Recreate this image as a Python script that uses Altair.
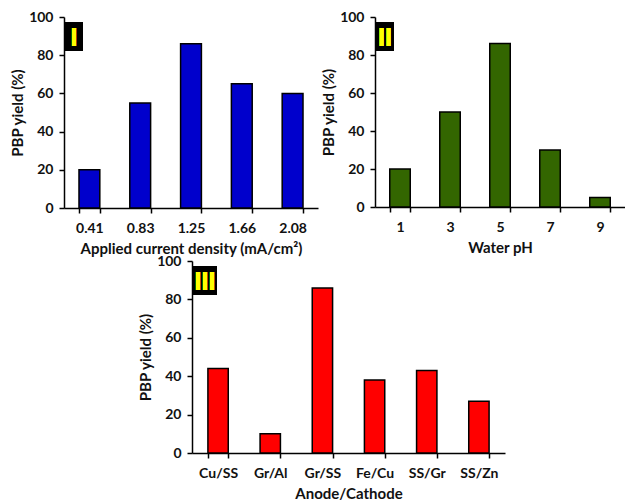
import altair as alt
import pandas as pd

current = ["0.41", "0.83", "1.25", "1.66", "2.08"]
yield_current = [20, 55, 86, 65, 60]

ph = ["1", "3", "5", "7", "9"]
yield_ph = [20, 50, 86, 30, 5]

electrodes = ["Cu/SS", "Gr/Al", "Gr/SS", "Fe/Cu", "SS/Gr", "SS/Zn"]
yield_electrodes = [44, 10, 86, 38, 43, 27]

FONT = "Lato"


def panel(cats, vals, color, xtitle, tag, w, h, pad, box_w):
    df = pd.DataFrame({"cat": cats, "val": vals})
    bars = alt.Chart(df).mark_bar(color=color, stroke="black", strokeWidth=1.5).encode(
        x=alt.X("cat:N", sort=cats, title=xtitle,
                scale=alt.Scale(paddingInner=pad, paddingOuter=pad / 2),
                axis=alt.Axis(labelAngle=0, tickBand="extent", labelPadding=8, titlePadding=6)),
        y=alt.Y("val:Q", title="PBP yield (%)",
                scale=alt.Scale(domain=[0, 100]),
                axis=alt.Axis(values=[0, 20, 40, 60, 80, 100], titlePadding=3, labelPadding=6)),
    )
    box = alt.Chart(df).mark_rect(color="black").encode(
        x=alt.value(1), x2=alt.value(1 + box_w), y=alt.value(5), y2=alt.value(34)
    )
    txt = alt.Chart(df).mark_text(
        text=tag, color="#ffff00", font="Liberation Sans", fontWeight="bold", fontSize=25,
        baseline="middle", align="center"
    ).encode(x=alt.value(1 + box_w / 2), y=alt.value(21))
    return alt.layer(bars, box, txt).properties(width=w, height=h)


p1 = panel(current, yield_current, "#0000cc", "Applied current density (mA/cm²)", "I", 254, 191, 0.59, 18)
p2 = panel(ph, yield_ph, "#336600", "Water pH", "II", 250, 190, 0.59, 18)
p3 = panel(electrodes, yield_electrodes, "#ff0000", "Anode/Cathode", "III", 313, 192, 0.61, 24)

spacer = alt.Chart(pd.DataFrame({"a": [0]})).mark_point(opacity=0).encode(
    x=alt.value(0), y=alt.value(0)
).properties(width=70, height=1)

chart = alt.vconcat(
    alt.hconcat(p1, p2, spacing=3),
    alt.hconcat(spacer, p3, spacing=4),
    spacing=-2,
).properties(
    padding={"left": 2, "top": 2, "right": 0, "bottom": 0}
).configure_view(stroke=None).configure_axis(
    grid=False,
    domainColor="black",
    domainWidth=1.5,
    tickColor="black",
    tickWidth=1.5,
    tickSize=5,
    labelFont=FONT,
    labelFontWeight="bold",
    labelFontSize=14,
    labelColor="#111111",
    titleFont=FONT,
    titleFontWeight="bold",
    titleFontSize=15,
    titleColor="#111111",
)

chart.save("out.html", embed_options={"renderer": "svg", "actions": False})
